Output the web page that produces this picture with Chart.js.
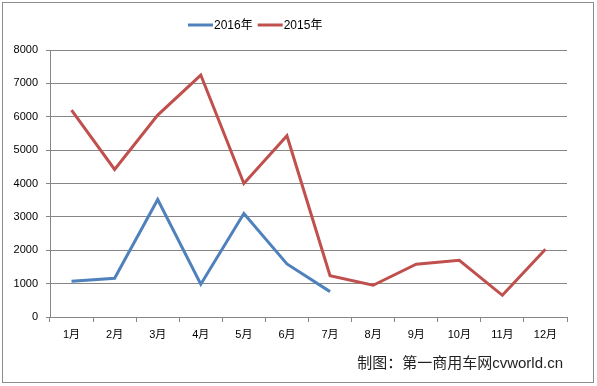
<!DOCTYPE html>
<html>
<head>
<meta charset="utf-8">
<script src="https://cdn.jsdelivr.net/npm/chart.js@4"></script>
<style>
  html, body { margin: 0; padding: 0; background: #fff; }
  #wrap { width: 597px; height: 386px; }
</style>
</head>
<body>
<div id="wrap"><canvas id="grafico" width="597" height="386"></canvas></div>
<script>
// dados
const meses = ['1月', '2月', '3月', '4月', '5月', '6月', '7月', '8月', '9月', '10月', '11月', '12月']
const vendas2016 = [1070, 1160, 3520, 980, 3100, 1590, 760]
const vendas2015 = [6200, 4420, 6050, 7250, 4000, 5430, 1240, 950, 1580, 1700, 650, 2030]
const yTicks = [0, 1000, 2000, 3000, 4000, 5000, 6000, 7000, 8000]

const fonte = '"Liberation Sans", "Noto Sans CJK SC", sans-serif'
const cinza = '#868686'

// legenda e rodapé desenhados à mão
const extras = {
  id: 'extras',
  afterDraw(chart) {
    const ctx = chart.ctx
    ctx.save()
    // moldura
    ctx.strokeStyle = '#8c8c8c'
    ctx.lineWidth = 1
    ctx.strokeRect(2.5, 2.5, 591, 380)

    // legenda
    ctx.font = '12px ' + fonte
    ctx.textBaseline = 'middle'
    let x = 188
    const y = 25
    chart.data.datasets.forEach(ds => {
      ctx.strokeStyle = ds.borderColor
      ctx.lineWidth = 3
      ctx.beginPath()
      ctx.moveTo(x, y)
      ctx.lineTo(x + 25, y)
      ctx.stroke()
      ctx.fillStyle = '#000'
      ctx.fillText(ds.label, x + 26, y + 1)
      x += 26 + ctx.measureText(ds.label).width + 5
    })

    // rodapé
    ctx.font = '15px ' + fonte
    ctx.textAlign = 'right'
    ctx.fillStyle = '#222'
    ctx.fillText('制图：第一商用车网cvworld.cn', 563, 364)
    ctx.restore()
  }
}

const ctx = document.getElementById('grafico').getContext('2d')
const lineChart = new Chart(ctx, {
  type: 'line',
  data: {
    labels: meses,
    datasets: [{
      label: '2016年',
      data: vendas2016,
      borderColor: '#4F81BD',
      backgroundColor: '#4F81BD',
      borderWidth: 3,
      pointRadius: 0,
      tension: 0
    }, {
      label: '2015年',
      data: vendas2015,
      borderColor: '#C0504D',
      backgroundColor: '#C0504D',
      borderWidth: 3,
      pointRadius: 0,
      tension: 0
    }]
  },
  options: {
    responsive: false,
    animation: false,
    layout: { padding: { left: 0, right: 30, top: 50, bottom: 29 } },
    plugins: {
      legend: { display: false },
      tooltip: { enabled: false }
    },
    scales: {
      x: {
        offset: true,
        afterFit: s => { s.height = 40 },
        grid: { offset: true, drawOnChartArea: false, drawTicks: true, tickLength: 5, color: cinza },
        border: { color: cinza },
        ticks: { color: '#000', font: { family: fonte, size: 11 }, padding: 6, maxRotation: 0 }
      },
      y: {
        min: 0,
        max: 8000,
        afterFit: s => { s.width = 50 },
        afterBuildTicks: s => { s.ticks = yTicks.map(v => ({ value: v })) },
        grid: { color: cinza, tickLength: 4 },
        border: { color: cinza },
        ticks: { color: '#000', font: { family: fonte, size: 11 }, padding: 8, callback: v => String(v) }
      }
    }
  },
  plugins: [extras]
})
</script>
</body>
</html>
